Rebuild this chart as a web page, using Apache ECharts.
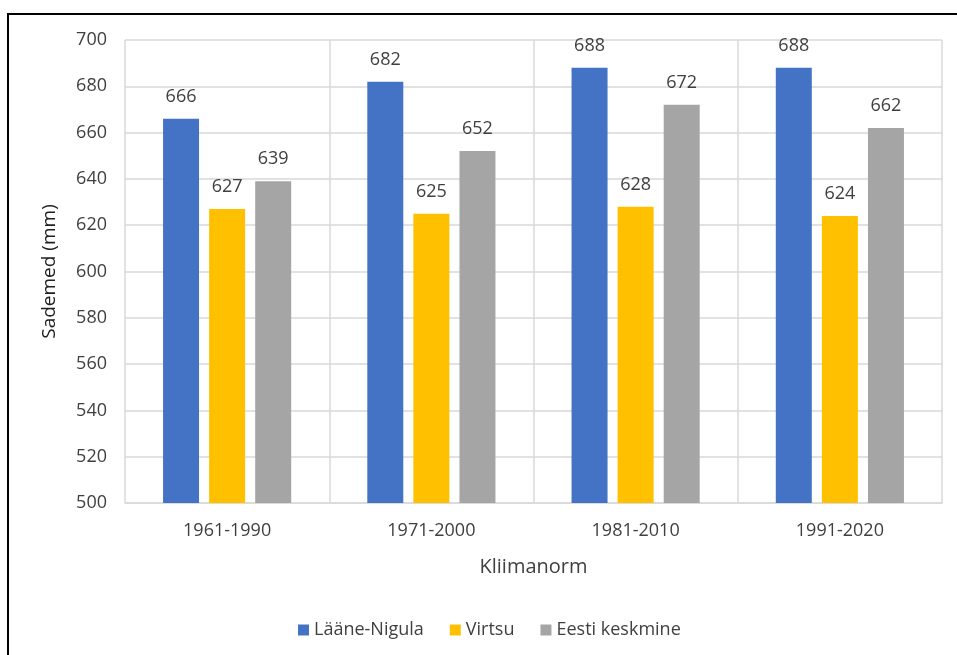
<!DOCTYPE html>
<html>
<head>
<meta charset="utf-8">
<script src="https://cdn.jsdelivr.net/npm/echarts@6/dist/echarts.min.js"></script>
<style>
html, body { margin: 0; padding: 0; background: #fff; }
#chart { width: 957px; height: 655px; }
</style>
</head>
<body>
<div id="chart"></div>
<script>
var categories = ['1961-1990', '1971-2000', '1981-2010', '1991-2020'];
var laaneNigula = [666, 682, 688, 688];
var virtsu = [627, 625, 628, 624];
var eestiKeskmine = [639, 652, 672, 662];

!function () {
    'use strict'
    var chart = echarts.init(document.getElementById('chart'));
    var font = '"Open Sans", "Noto Sans", sans-serif';

    function bar(name, data, color) {
        return {
            name: name,
            type: 'bar',
            data: data,
            barWidth: 36,
            barGap: '28%',
            itemStyle: { color: color },
            label: {
                show: true,
                position: 'top',
                distance: 13,
                color: '#404040',
                fontSize: 18,
                fontFamily: font
            }
        };
    }

    chart.setOption({
        animation: false,
        textStyle: { fontFamily: font },
        graphic: [{
            type: 'rect',
            shape: { x: 8, y: 14, width: 960, height: 660 },
            style: { fill: 'none', stroke: '#000', lineWidth: 2 },
            silent: true
        }],
        grid: { left: 125, right: 15, top: 40, bottom: 152 },
        legend: {
            top: 616,
            left: 293,
            itemWidth: 11,
            itemHeight: 11,
            itemGap: 26,
            icon: 'rect',
            textStyle: { color: '#404040', fontSize: 18, fontFamily: font }
        },
        xAxis: {
            type: 'category',
            data: categories,
            name: 'Kliimanorm',
            nameLocation: 'middle',
            nameGap: 54,
            nameTextStyle: { color: '#404040', fontSize: 20, fontFamily: font },
            axisLine: { lineStyle: { color: '#d9d9d9', width: 1.5 } },
            axisTick: { show: false },
            axisLabel: { color: '#404040', fontSize: 18, margin: 19, fontFamily: font },
            splitLine: { show: true, lineStyle: { color: '#d9d9d9', width: 1.5 } }
        },
        yAxis: {
            type: 'value',
            min: 500,
            max: 700,
            interval: 20,
            name: 'Sademed (mm)',
            nameLocation: 'middle',
            nameGap: 66,
            nameTextStyle: { color: '#202020', fontSize: 19, fontFamily: font },
            axisLine: { show: false },
            axisTick: { show: false },
            axisLabel: { color: '#404040', fontSize: 18, margin: 18, fontFamily: font },
            splitLine: { lineStyle: { color: '#d9d9d9', width: 1.5 } }
        },
        series: [
            bar('Lääne-Nigula', laaneNigula, '#4472c4'),
            bar('Virtsu', virtsu, '#ffc000'),
            bar('Eesti keskmine', eestiKeskmine, '#a5a5a5')
        ]
    });
}()
</script>
</body>
</html>
